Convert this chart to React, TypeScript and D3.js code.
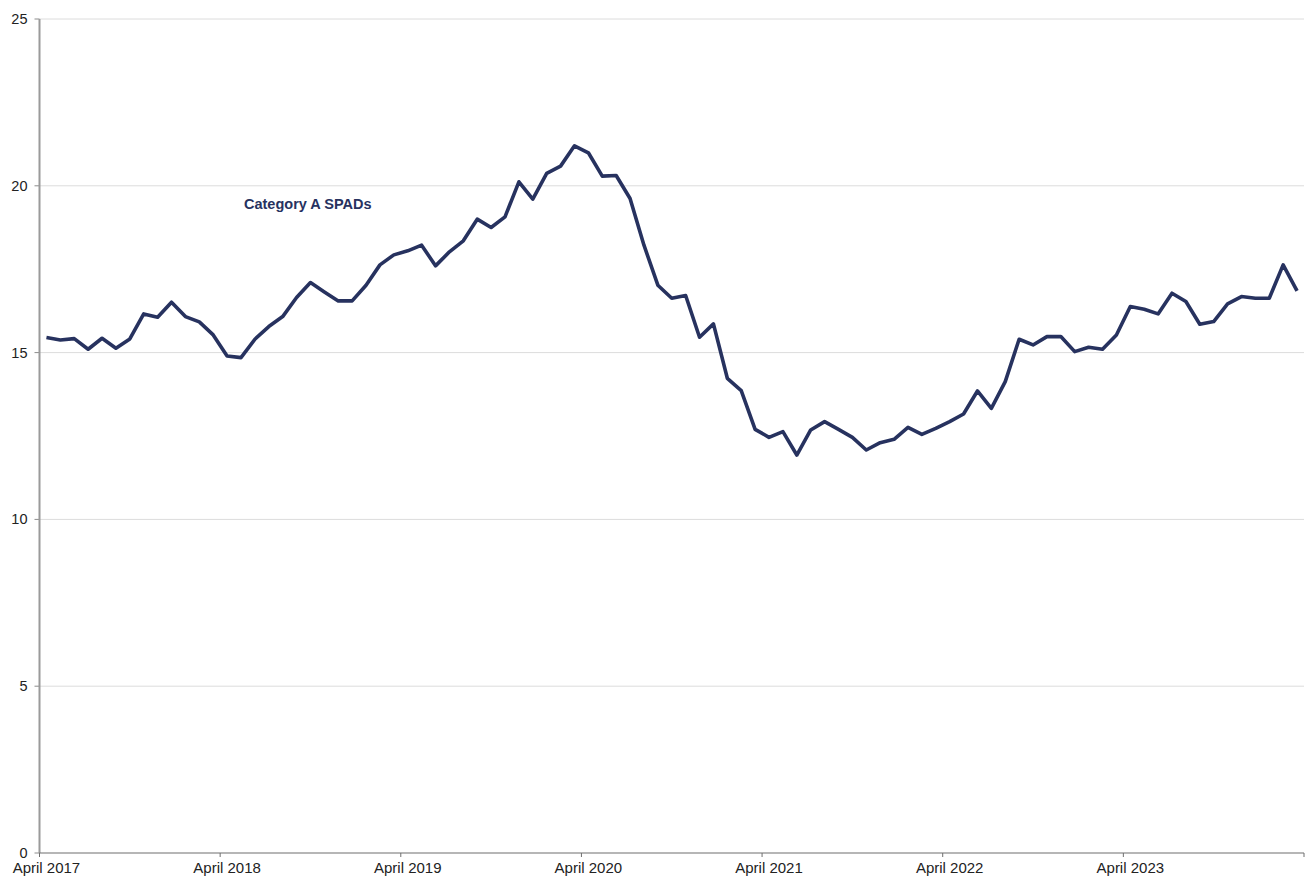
import React from "react";
import * as d3 from "d3";

const yearLabels = ["April 2017", "April 2018", "April 2019", "April 2020", "April 2021", "April 2022", "April 2023"];
const periodsPerYear = 13;
const yTicks = [0, 5, 10, 15, 20, 25];
const seriesName = "Category A SPADs";
const spadValues = [
  15.45, 15.38, 15.42, 15.1, 15.43, 15.13, 15.41, 16.16, 16.06, 16.51, 16.08, 15.92, 15.53,
  14.9, 14.85, 15.4, 15.78, 16.08, 16.65, 17.1, 16.82, 16.55, 16.55, 17.02, 17.63, 17.93,
  18.05, 18.22, 17.6, 18.02, 18.35, 19.0, 18.75, 19.07, 20.12, 19.6, 20.37, 20.59, 21.2,
  20.99, 20.29, 20.31, 19.62, 18.22, 17.02, 16.63, 16.71, 15.46, 15.86, 14.23, 13.86, 12.7,
  12.46, 12.63, 11.93, 12.68, 12.93, 12.7, 12.46, 12.08, 12.3, 12.4, 12.76, 12.55, 12.73,
  12.93, 13.16, 13.85, 13.33, 14.13, 15.4, 15.23, 15.48, 15.48, 15.03, 15.16, 15.1, 15.53,
  16.38, 16.3, 16.16, 16.78, 16.53, 15.85, 15.93, 16.46, 16.68, 16.63, 16.63, 17.63, 16.85,
];

const W = 1307;
const H = 876;
const left = 39.5;
const right = 1304;
const top = 19;
const bottom = 853;

export default function App() {
  const n = spadValues.length;
  const x = d3.scaleBand<number>().domain(d3.range(n)).range([left, right]).paddingInner(0).paddingOuter(0);
  const y = d3.scaleLinear().domain([0, 25]).range([bottom, top]);
  const cx = (i: number) => (x(i) as number) + x.bandwidth() / 2;
  const line = d3
    .line<number>()
    .x((_, i) => cx(i))
    .y((d) => y(d));
  const font = "'Liberation Sans', Arial, sans-serif";
  const tickIdx = d3.range(0, n + 1, periodsPerYear);
  const tickX = (k: number) => left + k * x.bandwidth();

  return (
    <svg width={W} height={H} style={{ position: "absolute", left: 0, top: 0, background: "#fff" }} fontFamily={font}>
      {yTicks.map((t) => (
        <g key={t}>
          {t > 0 && <line x1={left} x2={right} y1={y(t)} y2={y(t)} stroke="#dcdcdc" strokeWidth={1} />}
          <line x1={left - 5} x2={left} y1={y(t)} y2={y(t)} stroke="#8c8c8c" strokeWidth={1} />
          <text x={left - 12} y={y(t)} dy="0.35em" textAnchor="end" fontSize={14.5} fill="#222">
            {t}
          </text>
        </g>
      ))}
      <line x1={left} x2={left} y1={top} y2={bottom} stroke="#9a9a9a" strokeWidth={2} />
      <line x1={left} x2={right} y1={bottom} y2={bottom} stroke="#6e6e6e" strokeWidth={1.2} />
      {tickIdx.map((k) => (
        <line key={k} x1={tickX(k)} x2={tickX(k)} y1={bottom} y2={bottom + 4} stroke="#6e6e6e" strokeWidth={1} />
      ))}
      {yearLabels.map((lab, j) => (
        <text key={lab} x={cx(j * periodsPerYear)} y={873} textAnchor="middle" fontSize={15} fill="#222">
          {lab}
        </text>
      ))}
      <path d={line(spadValues) || ""} fill="none" stroke="#27325f" strokeWidth={3.6} strokeLinejoin="round" />
      <text x={244} y={209} fontSize={14.5} fontWeight="bold" fill="#27325f">
        {seriesName}
      </text>
    </svg>
  );
}
